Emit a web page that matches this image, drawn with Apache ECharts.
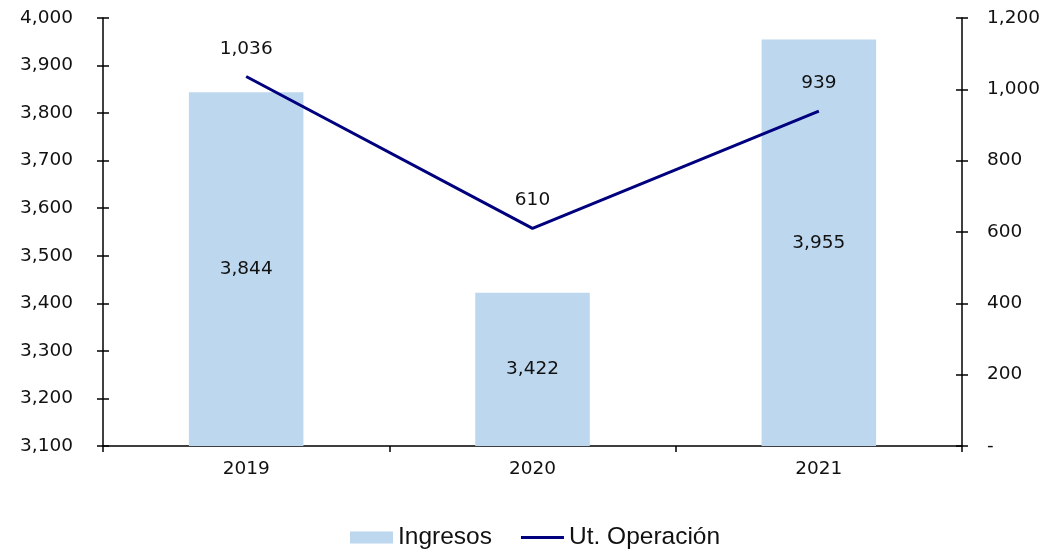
<!DOCTYPE html>
<html><head><meta charset="utf-8">
<script src="https://cdn.jsdelivr.net/npm/echarts@6/dist/echarts.min.js"></script>
<style>html,body{margin:0;padding:0;background:#fff}#c{width:1048px;height:554px}</style>
</head><body><div id="c"></div>
<script>
const categories = ['2019', '2020', '2021'];
const ingresos = [3844, 3422, 3955];
const utOperacion = [1036, 610, 939];
const seriesNames = ['Ingresos', 'Ut. Operación'];

const fmt = v => Number(v).toLocaleString('en-US');
const numFont = 'DejaVu Sans, Verdana, sans-serif';
const txtFont = 'Liberation Sans, Arial, sans-serif';
const NUM = 18.5;
const axisLine = { show: true, lineStyle: { color: '#000', width: 1.5 } };
const tick = (inside) => ({ show: true, inside: inside, length: 6, lineStyle: { color: '#000', width: 1.5 } });

const chart = echarts.init(document.getElementById('c'));
chart.setOption({
  animation: false,
  textStyle: { fontFamily: numFont },
  grid: { left: 103, right: 86, top: 18, bottom: 108 },
  legend: {
    top: 525, left: 350, padding: 0,
    itemWidth: 43, itemHeight: 12, itemGap: 29,
    textStyle: { fontSize: 24.5, color: '#111', fontFamily: txtFont },
    data: [
      { name: seriesNames[0], icon: 'rect' },
      { name: seriesNames[1], icon: 'path://M0,0H43V3H0Z' }
    ]
  },
  xAxis: {
    type: 'category', data: categories,
    axisLine: axisLine,
    axisTick: tick(false),
    axisLabel: { fontSize: NUM, color: '#111', margin: 14, fontFamily: numFont }
  },
  yAxis: [
    {
      type: 'value', min: 3100, max: 4000, interval: 100, position: 'left',
      axisLine: axisLine, splitLine: { show: false }, axisTick: tick(false),
      axisLabel: { fontSize: NUM, color: '#111', margin: 30, formatter: fmt, fontFamily: numFont }
    },
    {
      type: 'value', min: 0, max: 1200, interval: 200, position: 'right',
      axisLine: axisLine, splitLine: { show: false }, axisTick: tick(false),
      axisLabel: { fontSize: NUM, color: '#111', margin: 25, fontFamily: numFont,
        formatter: v => v === 0 ? '-' : fmt(v) }
    },
    {
      type: 'value', min: 3100, max: 4000, interval: 100, position: 'left', offset: 0,
      axisLine: { show: false }, splitLine: { show: false }, axisLabel: { show: false },
      axisTick: tick(true)
    },
    {
      type: 'value', min: 0, max: 1200, interval: 200, position: 'right', offset: 0,
      axisLine: { show: false }, splitLine: { show: false }, axisLabel: { show: false },
      axisTick: tick(true)
    }
  ],
  series: [
    {
      name: seriesNames[0], type: 'bar', data: ingresos, yAxisIndex: 0,
      barWidth: '40%',
      itemStyle: { color: '#BDD7EE' },
      label: { show: true, position: 'inside', fontSize: NUM, color: '#111', fontFamily: numFont,
        formatter: p => fmt(p.value) }
    },
    {
      name: seriesNames[1], type: 'line', data: utOperacion, yAxisIndex: 1,
      symbol: 'circle', symbolSize: 0.5, showSymbol: true,
      lineStyle: { color: '#00007F', width: 3 },
      itemStyle: { color: '#00007F' },
      label: { show: true, position: 'top', distance: 18, fontSize: NUM, color: '#111', fontFamily: numFont,
        formatter: p => fmt(p.value) }
    }
  ]
});
</script></body></html>
